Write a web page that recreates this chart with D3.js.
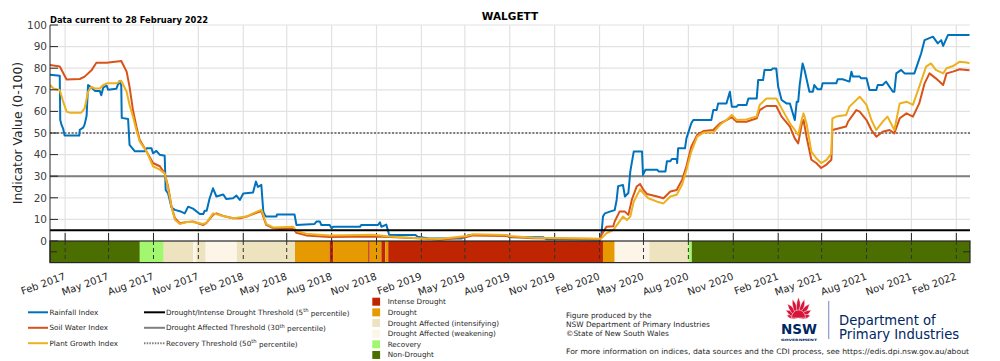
<!DOCTYPE html>
<html>
<head>
<meta charset="utf-8">
<script src="https://cdn.jsdelivr.net/npm/d3@7"></script>
<style>
  body { margin: 0; background: #fff; }
  svg { display: block; font-family: "DejaVu Sans", sans-serif; }
</style>
</head>
<body>
<div id="chart"></div>
<script>
// ---- data ----
const rainfallIndex = [
  ["2017-01-01",77],["2017-01-21",76.5],["2017-01-22",56],["2017-01-25",53.5],["2017-01-28",52],["2017-01-31",48.8],
  ["2017-03-02",48.8],["2017-03-03",51.5],["2017-03-10",52.5],["2017-03-13",54],["2017-03-17",58],["2017-03-20",72.2],
  ["2017-03-27",71],["2017-04-03",69.5],["2017-04-13",69.5],["2017-04-16",67.5],["2017-04-20",71],["2017-04-27",72],
  ["2017-04-30",70],["2017-05-17",70.5],["2017-05-23",74],["2017-05-27",72],["2017-05-28",57],["2017-06-10",56.5],
  ["2017-06-13",44.5],["2017-06-24",41.5],["2017-07-14",41.5],["2017-07-18",42.9],["2017-07-28",42.9],["2017-07-31",40.6],
  ["2017-08-07",41.7],["2017-08-14",39.9],["2017-08-24",39.5],["2017-08-26",23.6],["2017-08-31",22],["2017-09-07",15.5],
  ["2017-09-14",14.4],["2017-09-24",13.8],["2017-10-04",12.8],["2017-10-08",14.5],["2017-10-11",15.9],["2017-10-21",15],
  ["2017-11-04",12.5],["2017-11-11",12.5],["2017-11-14",14],["2017-11-18",14],["2017-11-24",19.7],["2017-12-01",24.4],
  ["2017-12-08",20.6],["2017-12-22",21.5],["2017-12-28",19.5],["2018-01-11",19.8],["2018-01-18",21],["2018-01-25",19],
  ["2018-02-01",22],["2018-02-21",22.4],["2018-02-27",27.5],["2018-03-03",25],["2018-03-10",26],["2018-03-14",13.6],
  ["2018-03-17",12.1],["2018-03-20",11.3],["2018-04-10",11.3],["2018-04-11",12.3],["2018-05-17",12.3],["2018-05-21",7.4],
  ["2018-06-27",7.9],["2018-07-01",9],["2018-07-08",9],["2018-07-11",7.4],["2018-07-28",7.4],["2018-08-01",5.9],
  ["2018-08-04",6.6],["2018-09-28",6.6],["2018-10-01",7.4],["2018-11-04",7.4],["2018-11-08",8.7],["2018-11-11",6.6],
  ["2018-11-21",7.6],["2018-11-27",2.8],["2019-01-20",2.8],["2019-01-24",2.0],["2019-02-17",1.2],["2019-04-25",1.2],
  ["2019-05-10",2.8],["2019-07-25",2.8],["2019-08-01",1.7],["2019-10-09",1.7],["2019-10-16",0.8],["2020-02-02",0.6],
  ["2020-02-05",3.6],["2020-02-08",11.3],["2020-02-12",12.8],["2020-02-22",13.6],["2020-03-03",14.3],["2020-03-07",19],
  ["2020-03-10",25.4],["2020-03-20",25.9],["2020-03-24",20.6],["2020-03-31",22.2],["2020-04-04",32.2],["2020-04-11",41.4],
  ["2020-04-28",41.4],["2020-04-30",30.6],["2020-05-05",33],["2020-05-29",33],["2020-06-01",32.2],["2020-06-15",32.2],
  ["2020-06-18",36.9],["2020-06-25",36.9],["2020-06-28",38],["2020-07-08",38],["2020-07-09",36.1],["2020-07-11",42.9],
  ["2020-07-25",42.9],["2020-07-28",47.5],["2020-08-07",54.5],["2020-08-11",56],["2020-09-17",56],["2020-09-21",60.6],
  ["2020-09-28",60.6],["2020-10-01",63.7],["2020-10-18",63.7],["2020-10-25",69.1],["2020-10-29",62.2],["2020-11-08",62.2],
  ["2020-11-11",63],["2020-11-28",63],["2020-12-02",66],["2020-12-19",66],["2020-12-22",74.5],["2021-01-01",74.5],
  ["2021-01-04",79.2],["2021-01-18",79.2],["2021-01-21",79.9],["2021-01-28",79.9],["2021-02-01",71.4],["2021-02-08",65.3],
  ["2021-02-18",63.7],["2021-02-25",63.7],["2021-03-07",56],["2021-03-11",64.5],["2021-03-14",64.5],["2021-03-17",72.2],
  ["2021-03-23",82.2],["2021-03-27",79.2],["2021-04-06",69.1],["2021-04-13",69.1],["2021-04-16",72.2],["2021-04-23",70.2],
  ["2021-04-30",70.2],["2021-05-03",73],["2021-05-31",73],["2021-06-03",74.9],["2021-06-13",74.9],["2021-06-27",73.8],
  ["2021-07-01",78.4],["2021-07-04",76.1],["2021-07-18",76.1],["2021-07-21",75.3],["2021-08-01",75.3],["2021-08-07",69.9],
  ["2021-08-21",69.9],["2021-08-24",72.2],["2021-09-03",72.2],["2021-09-10",73.8],["2021-09-17",71.4],["2021-09-24",69.1],
  ["2021-09-27",69.1],["2021-10-01",77.6],["2021-10-11",79.2],["2021-10-18",77.6],["2021-11-07",77.6],["2021-11-14",82.2],
  ["2021-11-21",86.9],["2021-11-28",93],["2021-12-15",94.6],["2021-12-25",91.5],["2022-01-01",93],["2022-01-05",90.3],
  ["2022-01-15",95.4],["2022-02-28",95.4]
];

const soilWaterIndex = [
  ["2017-01-01",81.5],["2017-01-21",80.8],["2017-02-04",74.8],["2017-03-03",75],["2017-03-13",76.1],["2017-03-27",79],
  ["2017-04-03",81.5],["2017-04-06",82.5],["2017-04-27",82.5],["2017-05-27",83.3],["2017-06-07",78.4],["2017-06-13",71.4],
  ["2017-06-20",60.6],["2017-06-27",53],["2017-07-04",46.7],["2017-07-14",42.9],["2017-07-31",36.1],["2017-08-14",34.6],
  ["2017-08-24",31.3],["2017-08-31",25.2],["2017-09-07",15.9],["2017-09-14",10.5],["2017-09-24",8.2],["2017-10-08",8.8],
  ["2017-10-21",9],["2017-11-11",7.4],["2017-11-18",8.5],["2017-12-01",12.1],["2017-12-08",12.8],["2017-12-22",11.6],
  ["2018-01-11",10.5],["2018-01-25",10.5],["2018-02-08",11.3],["2018-02-21",12.5],["2018-03-10",13.9],["2018-03-14",11.3],
  ["2018-03-20",7.5],["2018-04-03",6],["2018-04-17",5.6],["2018-05-14",6],["2018-05-21",3.8],["2018-06-10",2.6],
  ["2018-07-28",1.8],["2018-10-25",2.1],["2018-11-28",1.8],["2019-02-04",1.1],["2019-03-11",0.6],["2019-05-04",1.8],
  ["2019-05-18",2.6],["2019-07-25",2.3],["2019-08-01",2.0],["2019-09-18",1.3],["2020-02-02",0.9],["2020-02-05",2.8],
  ["2020-02-15",6.6],["2020-02-29",6.8],["2020-03-03",9],["2020-03-13",13.6],["2020-03-24",13.6],["2020-03-31",12.1],
  ["2020-04-07",19],["2020-04-17",25.2],["2020-04-24",26.4],["2020-05-01",23.6],["2020-05-08",21.8],["2020-05-29",20.6],
  ["2020-06-11",19.8],["2020-06-25",22.9],["2020-07-08",23.6],["2020-07-19",28.3],["2020-07-28",34.6],["2020-08-07",43.7],
  ["2020-08-19",49.1],["2020-09-01",50.9],["2020-09-21",51.4],["2020-10-05",54.5],["2020-10-18",56],["2020-10-29",57.3],
  ["2020-11-08",55.2],["2020-11-28",55.2],["2020-12-19",56.8],["2020-12-25",60.6],["2021-01-08",62.5],["2021-01-28",62.5],
  ["2021-02-08",57.6],["2021-02-25",53],["2021-03-07",47.5],["2021-03-14",45.2],["2021-03-21",53.7],["2021-03-25",56],
  ["2021-03-31",48.3],["2021-04-10",37.6],["2021-04-20",36.1],["2021-04-30",33.8],["2021-05-11",35.4],["2021-05-21",37.6],
  ["2021-05-23",51.4],["2021-06-20",53],["2021-06-24",55.2],["2021-07-11",60.6],["2021-07-18",59.9],["2021-08-01",56],
  ["2021-08-11",51.4],["2021-08-21",48.3],["2021-09-03",50.6],["2021-09-17",51.4],["2021-09-27",49.8],["2021-10-08",56.8],
  ["2021-10-22",59.1],["2021-11-04",57.6],["2021-11-17",63.7],["2021-11-28",73],["2021-12-08",77.6],["2021-12-21",75.3],
  ["2022-01-05",72.2],["2022-01-12",77.6],["2022-01-25",78.4],["2022-02-08",79.5],["2022-02-22",79.2],["2022-02-28",79]
];

const plantGrowthIndex = [
  ["2017-01-01",72.2],["2017-01-08",70.6],["2017-01-21",69.9],["2017-01-28",64.5],["2017-02-04",59.9],["2017-02-11",59.4],
  ["2017-03-06",59.4],["2017-03-13",61.4],["2017-03-20",69.1],["2017-03-27",71.4],["2017-04-03",70.6],["2017-04-13",70.6],
  ["2017-04-20",72.2],["2017-04-27",73],["2017-05-17",73],["2017-05-27",74.2],["2017-06-07",69.1],["2017-06-13",63],
  ["2017-06-20",57.6],["2017-06-27",51.4],["2017-07-04",46],["2017-07-18",41.4],["2017-07-31",34.6],["2017-08-14",33],
  ["2017-08-24",31.3],["2017-08-31",24.4],["2017-09-07",15.9],["2017-09-14",9.8],["2017-09-24",7.9],["2017-10-08",8.8],
  ["2017-10-21",8.8],["2017-11-11",7.9],["2017-11-18",8.5],["2017-12-01",12.8],["2017-12-22",11.6],["2018-01-11",10.5],
  ["2018-02-08",11.3],["2018-02-21",12.8],["2018-03-10",14.4],["2018-03-14",12.1],["2018-03-20",7.9],["2018-04-03",6.3],
  ["2018-05-14",6.6],["2018-05-21",4.6],["2018-06-10",3.4],["2018-07-28",2.6],["2018-10-25",2.9],["2018-11-28",2.1],
  ["2019-02-04",1.2],["2019-03-11",0.9],["2019-05-04",2.3],["2019-05-18",3.1],["2019-07-25",2.8],["2019-08-01",2.3],
  ["2019-09-18",1.5],["2020-02-02",1.0],["2020-02-05",1.2],["2020-02-15",3.6],["2020-02-29",5.1],["2020-03-10",8.2],
  ["2020-03-20",11.3],["2020-03-28",9.7],["2020-04-04",11.3],["2020-04-11",18.2],["2020-04-24",23.9],["2020-05-01",22.1],
  ["2020-05-11",19.8],["2020-05-29",18.2],["2020-06-11",17.4],["2020-06-25",20.6],["2020-07-08",21.4],["2020-07-19",26],
  ["2020-07-28",32.9],["2020-08-07",41.4],["2020-08-19",48.3],["2020-09-01",50.2],["2020-09-21",50.2],["2020-10-05",53.8],
  ["2020-10-18",56],["2020-10-29",58.3],["2020-11-08",56],["2020-11-28",56.3],["2020-12-19",57.6],["2020-12-25",63],
  ["2021-01-08",66],["2021-01-28",66],["2021-02-08",61.4],["2021-02-25",54.5],["2021-03-07",51.4],["2021-03-14",49.1],
  ["2021-03-21",56],["2021-03-25",59.1],["2021-03-31",54.5],["2021-04-10",41.4],["2021-04-20",38.3],["2021-04-30",36.1],
  ["2021-05-11",37.6],["2021-05-21",40.6],["2021-05-23",56.8],["2021-05-31",57.6],["2021-06-20",58.3],["2021-06-27",62.2],
  ["2021-07-18",66.8],["2021-08-01",63],["2021-08-11",56],["2021-08-21",51.4],["2021-09-03",55.2],["2021-09-13",57.6],
  ["2021-09-27",51.4],["2021-10-08",63.7],["2021-10-22",64.5],["2021-11-04",63],["2021-11-17",71.4],["2021-12-01",80.7],
  ["2021-12-11",82.2],["2021-12-21",79.2],["2022-01-05",77.6],["2022-01-12",80],["2022-01-25",81],["2022-02-08",83],
  ["2022-02-22",82.6],["2022-02-28",82.3]
];

// CDI phase periods: [start, end, phase]
const cdiPhases = [
  ["2017-01-01","2017-07-04","Non-Drought"],
  ["2017-07-04","2017-08-22","Recovery"],
  ["2017-08-22","2017-10-21","Drought Affected (intensifying)"],
  ["2017-10-21","2017-10-28","Drought Affected (weakening)"],
  ["2017-10-28","2017-11-16","Drought Affected (intensifying)"],
  ["2017-11-16","2018-01-19","Drought Affected (weakening)"],
  ["2018-01-19","2018-05-18","Drought Affected (intensifying)"],
  ["2018-05-18","2018-07-28","Drought"],
  ["2018-07-28","2018-08-04","Intense Drought"],
  ["2018-08-04","2018-10-15","Drought"],
  ["2018-10-15","2018-10-18","Intense Drought"],
  ["2018-10-18","2018-11-11","Drought"],
  ["2018-11-11","2018-11-19","Intense Drought"],
  ["2018-11-19","2018-11-25","Drought"],
  ["2018-11-25","2020-02-08","Intense Drought"],
  ["2020-02-08","2020-03-03","Drought"],
  ["2020-03-03","2020-05-13","Drought Affected (weakening)"],
  ["2020-05-13","2020-08-01","Drought Affected (intensifying)"],
  ["2020-08-01","2020-08-08","Recovery"],
  ["2020-08-08","2022-03-01","Non-Drought"]
];

const phaseNames = ["Intense Drought","Drought","Drought Affected (intensifying)",
  "Drought Affected (weakening)","Recovery","Non-Drought"];
const xTickDates = ["2017-02-01","2017-05-01","2017-08-01","2017-11-01","2018-02-01","2018-05-01","2018-08-01",
  "2018-11-01","2019-02-01","2019-05-01","2019-08-01","2019-11-01","2020-02-01","2020-05-01","2020-08-01",
  "2020-11-01","2021-02-01","2021-05-01","2021-08-01","2021-11-01","2022-02-01"];
const yTickValues = [0,10,20,30,40,50,60,70,80,90,100];
const seriesNames = ["Rainfall Index","Soil Water Index","Plant Growth Index"];
const thresholdValues = [5, 30, 50];

// ---- styles ----
const phaseColors = {
  "Intense Drought": "#bf2500",
  "Drought": "#e69900",
  "Drought Affected (intensifying)": "#eee3bf",
  "Drought Affected (weakening)": "#fdf5e8",
  "Recovery": "#a2f76e",
  "Non-Drought": "#4b6e00"
};
const seriesColors = ["#0072bd", "#d95319", "#edb120"];
const axisColor = "#262626";

const parse = d3.timeParse("%Y-%m-%d");
const fmt = d3.timeFormat("%b %Y");

const svg = d3.select("#chart").append("svg")
  .attr("width", 1000).attr("height", 361);

// scales
const x = d3.scaleTime()
  .domain([parse("2017-01-01"), parse("2022-03-01")])
  .range([50, 970]);
const y = d3.scaleLinear().domain([-10, 100]).range([262.6, 25]);
const left = x.range()[0], right = x.range()[1];
const xTicks = xTickDates.map(parse);

// gridlines
svg.append("g").selectAll("line").data(yTickValues.filter(d => d > 0)).join("line")
  .attr("x1", left).attr("x2", right)
  .attr("y1", d => y(d)).attr("y2", d => y(d))
  .attr("stroke", "#e2e2e2").attr("stroke-width", 1.2);
svg.append("g").selectAll("line").data(xTicks).join("line")
  .attr("x1", d => x(d)).attr("x2", d => x(d))
  .attr("y1", y(100)).attr("y2", y(0))
  .attr("stroke", "#e2e2e2").attr("stroke-width", 1.2);

// thresholds
svg.append("line").attr("x1", left).attr("x2", right)
  .attr("y1", y(thresholdValues[2])).attr("y2", y(thresholdValues[2]))
  .attr("stroke", "#7f7f7f").attr("stroke-width", 2).attr("stroke-dasharray", "2,1.6");
svg.append("line").attr("x1", left).attr("x2", right)
  .attr("y1", y(thresholdValues[1])).attr("y2", y(thresholdValues[1]))
  .attr("stroke", "#7f7f7f").attr("stroke-width", 2);

// x tick marks above the bar
svg.append("g").selectAll("line").data(xTicks).join("line")
  .attr("x1", d => x(d)).attr("x2", d => x(d))
  .attr("y1", y(0) - 8).attr("y2", y(0))
  .attr("stroke", axisColor).attr("stroke-width", 1);

// index lines
svg.append("clipPath").attr("id", "plotClip").append("rect")
  .attr("x", left).attr("y", y(100) - 2).attr("width", right - left).attr("height", y(-1) - y(100) + 2);

const line = d3.line().x(d => x(parse(d[0]))).y(d => y(d[1]));
const allSeries = [rainfallIndex, soilWaterIndex, plantGrowthIndex];
svg.append("g").attr("clip-path", "url(#plotClip)")
  .selectAll("path").data(allSeries).join("path")
  .attr("d", d => line(d))
  .attr("fill", "none")
  .attr("stroke", (d, i) => seriesColors[i])
  .attr("stroke-width", 2)
  .attr("stroke-linejoin", "round");

// 5th percentile line
svg.append("line").attr("x1", left).attr("x2", right)
  .attr("y1", y(thresholdValues[0])).attr("y2", y(thresholdValues[0]))
  .attr("stroke", "#000").attr("stroke-width", 2);

// CDI status bar
svg.append("g").selectAll("rect").data(cdiPhases).join("rect")
  .attr("x", d => x(parse(d[0])))
  .attr("width", d => x(parse(d[1])) - x(parse(d[0])))
  .attr("y", y(0)).attr("height", y(-10) - y(0))
  .attr("fill", d => phaseColors[d[2]]);
svg.append("g").selectAll("line").data(xTicks).join("line")
  .attr("x1", d => x(d)).attr("x2", d => x(d))
  .attr("y1", y(0)).attr("y2", y(-10))
  .attr("stroke", "#333").attr("stroke-width", 1).attr("stroke-dasharray", "4,3");
svg.append("rect").attr("x", left).attr("y", y(0))
  .attr("width", right - left).attr("height", y(-10) - y(0))
  .attr("fill", "none").attr("stroke", axisColor).attr("stroke-width", 1.2);
svg.append("line").attr("x1", left).attr("x2", left + 7).attr("y1", y(-5)).attr("y2", y(-5)).attr("stroke", axisColor);
svg.append("line").attr("x1", right - 7).attr("x2", right).attr("y1", y(-5)).attr("y2", y(-5)).attr("stroke", axisColor);

// y axis
svg.append("line").attr("x1", left).attr("x2", left)
  .attr("y1", y(100)).attr("y2", y(-10)).attr("stroke", axisColor).attr("stroke-width", 1);
svg.append("g").selectAll("line").data(yTickValues).join("line")
  .attr("x1", left).attr("x2", left + 8)
  .attr("y1", d => y(d)).attr("y2", d => y(d))
  .attr("stroke", axisColor);
svg.append("g").selectAll("text").data(yTickValues).join("text")
  .attr("x", left - 3).attr("y", d => y(d))
  .attr("dy", "0.36em")
  .attr("text-anchor", "end")
  .style("font-size", "10.5px").style("fill", "#404040")
  .text(d => d);
svg.append("text")
  .attr("transform", `translate(22, ${(y(100) + y(0)) / 2}) rotate(-90)`)
  .attr("text-anchor", "middle")
  .style("font-size", "12.4px").style("fill", axisColor)
  .text("Indicator Value (0-100)");

// x labels
svg.append("g").selectAll("text").data(xTicks).join("text")
  .attr("transform", d => `translate(${x(d) + 1}, 279) rotate(-20)`)
  .attr("text-anchor", "end")
  .style("font-size", "10px").style("fill", axisColor)
  .text(d => fmt(d));

// titles
svg.append("text").attr("x", 510).attr("y", 20).attr("text-anchor", "middle")
  .style("font-size", "10.5px").style("font-weight", "bold").style("fill", "#000")
  .text("WALGETT");
svg.append("text").attr("x", 50).attr("y", 23)
  .attr("textLength", 158).attr("lengthAdjust", "spacingAndGlyphs")
  .style("font-size", "9px").style("font-weight", "bold").style("fill", "#000")
  .text("Data current to 28 February 2022");

// ---- legends ----
const legRows = [312.3, 327.8, 343.2];
const lg1 = svg.append("g");
seriesNames.forEach((name, i) => {
  lg1.append("line").attr("x1", 28).attr("x2", 48).attr("y1", legRows[i]).attr("y2", legRows[i])
    .attr("stroke", seriesColors[i]).attr("stroke-width", 2);
  lg1.append("text").attr("x", 49.5).attr("y", legRows[i]).attr("dy", "0.35em")
    .style("font-size", "7.2px").style("fill", axisColor).text(name);
});

const thrLegend = [
  { pre: "Drought/Intense Drought Threshold (5", post: " percentile)", stroke: "#000", dash: null },
  { pre: "Drought Affected Threshold (30", post: " percentile)", stroke: "#7f7f7f", dash: null },
  { pre: "Recovery Threshold (50", post: " percentile)", stroke: "#7f7f7f", dash: "1.5,1.2" }
];
thrLegend.forEach((d, i) => {
  lg1.append("line").attr("x1", 144).attr("x2", 165).attr("y1", legRows[i]).attr("y2", legRows[i])
    .attr("stroke", d.stroke).attr("stroke-width", 2).attr("stroke-dasharray", d.dash);
  const t = lg1.append("text").attr("x", 166).attr("y", legRows[i]).attr("dy", "0.35em")
    .style("font-size", "7.2px").style("fill", axisColor);
  t.append("tspan").text(d.pre);
  t.append("tspan").attr("dy", "-0.45em").style("font-size", "5.2px").text("th");
  t.append("tspan").attr("dy", "0.45em").text(d.post);
});

phaseNames.forEach((name, i) => {
  const cy = 301.7 + i * 10.65;
  lg1.append("rect").attr("x", 372.3).attr("y", cy - 4).attr("width", 7.8).attr("height", 8)
    .attr("fill", phaseColors[name]);
  lg1.append("text").attr("x", 387.7).attr("y", cy).attr("dy", "0.35em")
    .style("font-size", "7.2px").style("fill", axisColor).text(name);
});

// credits
const credits = ["Figure produced by the", "NSW Department of Primary Industries", "\u00a9State of New South Wales"];
credits.forEach((s, i) => {
  svg.append("text").attr("x", 566).attr("y", 315 + i * 9.4).attr("dy", "0.35em")
    .style("font-size", "7.4px").style("fill", axisColor).text(s);
});
svg.append("text").attr("x", 566).attr("y", 351).attr("dy", "0.35em")
  .attr("textLength", 403).attr("lengthAdjust", "spacingAndGlyphs")
  .style("font-size", "7.4px").style("fill", axisColor)
  .text("For more information on indices, data sources and the CDI process, see https://edis.dpi.nsw.gov.au/about");

// NSW logo (waratah + wordmark)
const logo = svg.append("g").attr("transform", "translate(798.5, 318)");
const petals = [
  { a: -78, l: 12, w: 4.5 }, { a: -58, l: 15, w: 4.5 }, { a: -38, l: 18, w: 4.5 }, { a: -18, l: 20, w: 4.2 },
  { a: 0, l: 21, w: 4.2 }, { a: 18, l: 20, w: 4.2 }, { a: 38, l: 18, w: 4.5 }, { a: 58, l: 15, w: 4.5 }, { a: 78, l: 12, w: 4.5 }
];
logo.selectAll("path").data(petals).join("path")
  .attr("d", p => `M0,0 Q${p.w},${-p.l * 0.55} 0,${-p.l} Q${-p.w},${-p.l * 0.55} 0,0Z`)
  .attr("transform", p => `rotate(${p.a})`)
  .attr("fill", "#d7153a").attr("stroke", "#fff").attr("stroke-width", 0.5);
logo.append("path").attr("d", "M-7,0 A7,8 0 0 1 7,0Z").attr("fill", "#d7153a")
  .attr("stroke", "#fff").attr("stroke-width", 0.5);
svg.append("text").attr("x", 781).attr("y", 334.3)
  .attr("textLength", 36).attr("lengthAdjust", "spacingAndGlyphs")
  .style("font-size", "14.5px").style("font-weight", "bold").style("fill", "#002664").text("NSW");
svg.append("text").attr("x", 781).attr("y", 341.3)
  .attr("textLength", 36).attr("lengthAdjust", "spacingAndGlyphs")
  .style("font-size", "3px").style("font-weight", "bold").style("fill", "#002664").text("GOVERNMENT");
svg.append("line").attr("x1", 828.7).attr("x2", 828.7).attr("y1", 301).attr("y2", 339)
  .attr("stroke", "#8b9cc4").attr("stroke-width", 1.2);
svg.append("text").attr("x", 839).attr("y", 325)
  .style("font-size", "13.2px").style("fill", "#002664").text("Department of");
svg.append("text").attr("x", 839).attr("y", 338.5)
  .style("font-size", "13.2px").style("fill", "#002664").text("Primary Industries");
</script>
</body>
</html>
